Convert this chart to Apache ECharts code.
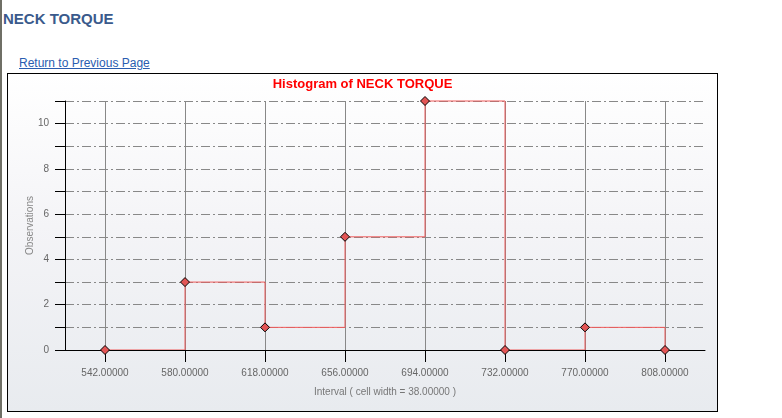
<!DOCTYPE html>
<html>
<head>
<meta charset="utf-8">
<script src="https://cdn.jsdelivr.net/npm/echarts@6/dist/echarts.min.js"></script>
<style>
  html, body { margin: 0; padding: 0; background: #fff; width: 782px; height: 418px; overflow: hidden; }
  body { position: relative; font-family: "Liberation Sans", Arial, sans-serif; }
  #leftbar { position: absolute; left: 0; top: 0; width: 2px; height: 418px; background: #6f6f66; }
  #pageTitle { position: absolute; left: 3px; top: 10px; font-size: 15px; font-weight: bold; color: #3a5a8c; white-space: nowrap; }
  #backLink { position: absolute; left: 19px; top: 56px; font-size: 12px; color: #2a5db0; text-decoration: underline; white-space: nowrap; }
  #chartBox { position: absolute; left: 7px; top: 73px; width: 709px; height: 337px; border: 1px solid #000;
              background: linear-gradient(to bottom, #ffffff 0%, #f4f4f7 45%, #e8ebef 100%); }
  #chart { width: 709px; height: 337px; }
</style>
</head>
<body>
<div id="leftbar"></div>
<div id="pageTitle">NECK TORQUE</div>
<a id="backLink" href="#">Return to Previous Page</a>
<div id="chartBox"><div id="chart"></div></div>
<script>
const chartTitle = "Histogram of NECK TORQUE";
const xAxisTitle = "Interval ( cell width = 38.00000 )";
const yAxisTitle = "Observations";
const intervals = [542, 580, 618, 656, 694, 732, 770, 808];
const observations = [0, 3, 1, 5, 11, 0, 1, 0];
const xMin = 523, xMax = 827;
const yMin = 0, yMax = 11;

const chart = echarts.init(document.getElementById('chart'), null, { renderer: 'canvas' });
const seriesData = intervals.map((v, i) => [v, observations[i]]);
const labelFont = '"Liberation Sans", Arial, sans-serif';

chart.setOption({
  backgroundColor: 'transparent',
  animation: false,
  title: {
    text: chartTitle,
    left: 'center',
    top: -1,
    textStyle: { color: '#ff0000', fontSize: 13, fontWeight: 'bold', fontFamily: labelFont }
  },
  grid: { left: 57, top: 27, right: 12, bottom: 61, containLabel: false },
  xAxis: [{
    type: 'value',
    min: xMin,
    max: xMax,
    name: xAxisTitle,
    nameLocation: 'middle',
    nameGap: 37,
    nameMoveOverlap: false,
    nameTextStyle: { color: '#777', fontSize: 10, fontFamily: labelFont },
    axisLine: { show: false },
    axisTick: { show: true, length: 12, inside: false, customValues: intervals, lineStyle: { color: '#000' } },
    axisLabel: { show: true, customValues: intervals, margin: 18, color: '#666', fontSize: 10, fontFamily: labelFont,
                 formatter: v => Number(v).toFixed(5) },
    splitLine: { show: true, lineStyle: { color: '#888', width: 1, type: 'solid' } }
  }, {
    type: 'value',
    position: 'bottom',
    min: xMin,
    max: xMax,
    z: 10,
    axisLine: { show: true, onZero: false, lineStyle: { color: '#000', width: 1 } },
    axisTick: { show: false },
    axisLabel: { show: false },
    splitLine: { show: false }
  }],
  yAxis: [{
    type: 'value',
    min: yMin,
    max: yMax,
    interval: 1,
    name: yAxisTitle,
    nameLocation: 'middle',
    nameGap: 30,
    nameMoveOverlap: false,
    nameTextStyle: { color: '#888', fontSize: 10, fontFamily: labelFont },
    axisLine: { show: false },
    axisTick: { show: true, length: 10, lineStyle: { color: '#000' } },
    axisLabel: { show: true, margin: 16, color: '#666', fontSize: 10, fontFamily: labelFont,
                 formatter: v => (v % 2 === 0 ? String(v) : '') },
    splitLine: { show: true, lineStyle: { color: '#888', width: 1, type: [9, 3, 2, 3] } }
  }, {
    type: 'value',
    position: 'left',
    min: yMin,
    max: yMax,
    z: 10,
    axisLine: { show: true, lineStyle: { color: '#000', width: 1 } },
    axisTick: { show: false },
    axisLabel: { show: false },
    splitLine: { show: false }
  }],
  series: [{
    type: 'line',
    step: 'end',
    data: seriesData,
    symbol: 'none',
    clip: false,
    lineStyle: { color: '#f05a5a', width: 1 },
    z: 3
  }, {
    type: 'scatter',
    data: seriesData,
    symbol: 'diamond',
    symbolSize: 9,
    clip: false,
    itemStyle: { color: '#e25555', borderColor: '#000', borderWidth: 1, opacity: 1 },
    z: 20
  }]
});
</script>
</body>
</html>
